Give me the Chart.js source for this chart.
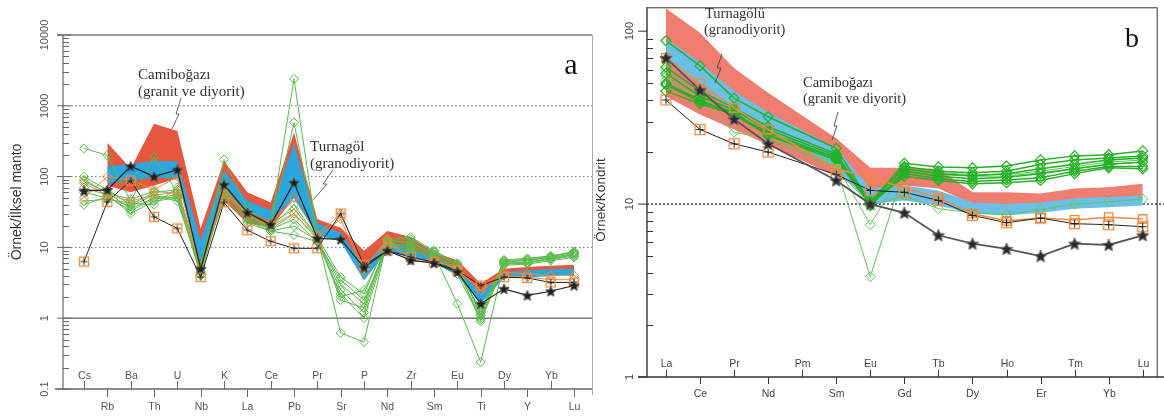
<!DOCTYPE html>
<html lang="tr">
<head>
<meta charset="UTF-8">
<title>Örümcek diyagramları</title>
<script src="https://cdn.jsdelivr.net/npm/chart.js"></script>
<style>
  html, body { margin: 0; padding: 0; background: #fff; }
  #wrap { position: relative; width: 1164px; height: 419px; overflow: hidden; }
  #chartA { position: absolute; left: 0; top: 0; }
  #chartB { position: absolute; left: 588px; top: 0; }
</style>
</head>
<body>
<div id="wrap">
  <canvas id="chartA" width="600" height="419"></canvas>
  <canvas id="chartB" width="576" height="419"></canvas>
</div>
<script>
// ---------- panel a : ilksel manto normalize ----------
const elementsA = ['Cs','Rb','Ba','Th','U','Nb','K','La','Ce','Pb','Pr','Sr','P','Nd','Zr','Sm','Eu','Ti','Dy','Y','Yb','Lu'];
const yTicksA = [0.1, 1, 10, 100, 1000, 10000];

const redTopA  = [null, 300, 130, 560, 440, 18.5, 167, 60, 43, 420, 25, 19, 9, 17, 14, 8.5, 6.6, 3.1, 5.0, 5.3, 5.5, 5.7];
const redBotA  = [null, 75, 60, 75, 94, 5.2, 46, 22, 19, 50, 17, 13, 5.2, 10.5, 8.2, 6.5, 4.5, 1.8, 4.0, 4.0, 4.2, 4.3];
const blueTopA = [null, 140, 150, 167, 163, 12.6, 120, 46, 33, 290, 22, 16, 5.5, 12.5, 9.5, 7.2, 5, 2.3, 4.5, 4.7, 4.9, 5.0];
const blueBotA = [null, 80, 88, 97, 94, 6, 70, 31, 24, 50, 15, 12, 3.4, 9, 7.2, 6, 4, 1.6, 3.7, 3.8, 3.9, 4.0];

const starA = [63, 65, 140, 100, 125, 5, 77, 31, 21, 82, 13.4, 13, 5.2, 9, 6.6, 6, 4.5, 1.6, 2.6, 2.1, 2.4, 2.9];
const plusA = [6.3, 44, 88, 27, 18.5, 3.8, 43, 17.5, 12.2, 9.7, 9.7, 30, 5.6, 9, 7.3, 6.2, 4.7, 2.9, 3.8, 3.7, 3.2, 3.2];
const orangeA1 = [50, 100, 90, 65, 100, 5, 60, 30, 22, 50, 15, 30, 5, 13, 7, 6.5, 5, 2.8, 4.5, 4.2, 4, 4];
const orangeA2 = [80, 55, 45, 55, 60, 5, 70, 28, 20, 30, 14, 25, 4.5, 12, 6.5, 6.2, 4.8, 2.5, 4, 3.8, 3.5, 3.5];

const greenA1 = [250, 200, 45, 190, 60, 5, 175, 35, 22, 2400, 14, 0.62, 0.46, 13, 14, 9, 6, 1.1, 6.5, 6.8, 7.5, 8.5];
const greenA2 = [100, 65, 40, 60, 65, 4.5, 80, 30, 20, 580, 13, 2.5, 1.2, 12, 12, 8, 1.6, 0.24, 6.0, 6.2, 7.0, 8.0];
const greenA3 = [85, 60, 35, 50, 55, 5, 65, 28, 19, 40, 14, 3.8, 2.2, 13, 11, 8.5, 5.5, 1.2, 6.2, 6.5, 7.2, 8.2];
const greenA4 = [70, 55, 30, 45, 50, 4.2, 60, 25, 18, 30, 13, 3.0, 1.6, 12, 10, 8, 5, 1.0, 5.8, 6.0, 6.8, 7.5];
const greenA5 = [60, 50, 38, 55, 45, 4.8, 55, 27, 18, 25, 12, 2.2, 1.0, 11, 9.5, 7.5, 5.2, 0.9, 5.6, 5.8, 6.5, 7.2];
const greenA6 = [45, 48, 42, 40, 70, 5.5, 50, 24, 17, 20, 12.5, 2.0, 2.5, 11.5, 10.5, 7.8, 4.8, 1.3, 6.3, 6.6, 7.3, 8.8];
const greenA7 = [40, 52, 33, 48, 52, 4, 70, 22, 17, 15, 12, 3.5, 1.8, 10.5, 9, 7, 4.2, 0.95, 5.9, 6.1, 6.9, 7.8];
const greenA8 = [90, 58, 48, 62, 58, 5.2, 58, 32, 21, 35, 14, 1.8, 1.4, 12.5, 13, 8.8, 5.8, 1.1, 6.7, 7.0, 7.6, 8.6];

// ---------- panel b : kondrit normalize ----------
const elementsB = ['La','Ce','Pr','Nd','Pm','Sm','Eu','Gd','Tb','Dy','Ho','Er','Tm','Yb','Lu'];
const yTicksB = [1, 10, 100];

const redTopB  = [135, 98, 61, 44, null, 24, 16.2, 16.2, 16, 11.7, 11.7, 11.5, 12.3, 12.5, 13.1];
const redBotB  = [42, 33, 27, 22, null, 14.5, 11.5, 12.8, 12.3, 10, 10, 10, 10.4, 10.6, 10.8];
const blueTopB = [90, 66, 45, 34, null, 21, 12.4, 12.8, 12, 10.2, 10, 10.2, 10.8, 11, 11.2];
const blueBotB = [68, 49, 34, 27, null, 16, 10, 10.5, 9.8, 8.8, 8.6, 8.9, 9.4, 9.6, 9.8];

const starB   = [70, 45.6, 31, 22.3, null, 13.7, 10, 8.9, 6.6, 5.9, 5.5, 5.0, 5.9, 5.8, 6.6];
const plusB   = [40, 27, 22.3, 20, null, 14.8, 12, 11.7, 10.5, 8.6, 7.8, 8.3, 7.7, 7.6, 7.4];
const orangeB = [70, 50, 36, 27, null, 16, 14.2, 12.4, 10.9, 8.8, 8, 8.3, 8.1, 8.4, 8.2];

const greenB1 = [88, 63, 41, 32, null, 21, 10.2, 17.2, 16.4, 16.2, 16.6, 18, 19, 19.3, 20.3];
const greenB2 = [62, 45, 36, 28, null, 19.5, 10, 16.5, 15.5, 15.2, 15.5, 17, 18, 18.5, 19];
const greenB3 = [57, 42, 35, 27, null, 19, 10.4, 16, 15, 14.6, 15, 16, 17, 18, 18.5];
const greenB4 = [50, 40, 33, 26, null, 18.5, 9.8, 15.5, 14.5, 14, 14.3, 15, 16, 17, 17.5];
const greenB5 = [49, 39, 34, 25, null, 18, 10.1, 15, 14, 13.5, 13.8, 14.2, 15.5, 16.5, 16.5];
const greenB6 = [45, 38, 33, 25, null, 18.5, 10, 14.5, 13.7, 13.1, 13.3, 13.7, 15, 16.2, 16];
const greenB7 = [55, 40, 26, 24, null, 16, 9.8, 11.2, 9.4, 8.9, 8.7, 9.3, 10, 10.3, 10.7];
const greenB8 = [60, 42, 34, 26, null, 17, 7.6, 16, 15.2, 14.8, 14.8, 15.5, 16.5, 17.5, 18];
const greenB9 = [52, 41, 33, 25, null, 16.5, 3.8, 15.8, 14.8, 14.5, 14.5, 15.2, 16, 17, 17.5];

// ---------- colours ----------
const RED_A = '#e5573f', BLUE_A = '#2ba6de';
const RED_B = '#ef7d70', BLUE_B = '#6cbfe6';
const GREEN_A = '#5cba4c', GREEN_B = '#26b026', GREEN_B2 = '#62c462';
const ORANGE = '#ef8a3c';
const OX = 588; // left of canvas b

function pts(vals) {
  return vals.map((v, i) => ({ x: i, y: v }));
}

function makeStar(r, fill, stroke) {
  const c = document.createElement('canvas');
  const s = Math.ceil(r * 2 + 3);
  c.width = s; c.height = s;
  const g = c.getContext('2d');
  g.translate(s / 2, s / 2 + 0.5);
  g.beginPath();
  for (let k = 0; k < 10; k++) {
    const rr = k % 2 ? r * 0.45 : r;
    const a = -Math.PI / 2 + k * Math.PI / 5;
    g.lineTo(rr * Math.cos(a), rr * Math.sin(a));
  }
  g.closePath();
  g.fillStyle = fill; g.fill();
  g.strokeStyle = stroke; g.lineWidth = 1; g.stroke();
  return c;
}

function makeSqPlus(h, sq, plus) {
  const c = document.createElement('canvas');
  const s = h * 2 + 3;
  c.width = s; c.height = s;
  const g = c.getContext('2d');
  g.strokeStyle = sq; g.lineWidth = 1.3;
  g.strokeRect(1.5, 1.5, s - 3, s - 3);
  g.strokeStyle = plus; g.lineWidth = 1;
  g.beginPath();
  g.moveTo(s / 2, 2.5); g.lineTo(s / 2, s - 2.5);
  g.moveTo(2.5, s / 2); g.lineTo(s - 2.5, s / 2);
  g.stroke();
  return c;
}

function band(top, bot, color, order) {
  return [
    { data: pts(top), fill: '+1', backgroundColor: color, borderColor: 'rgba(0,0,0,0)', borderWidth: 0, pointRadius: 0, spanGaps: true, order: order },
    { data: pts(bot), fill: false, borderColor: 'rgba(0,0,0,0)', borderWidth: 0, pointRadius: 0, spanGaps: true, order: order }
  ];
}

function lineDs(vals, o) {
  return Object.assign({ data: pts(vals), fill: false, spanGaps: true, pointBackgroundColor: 'rgba(0,0,0,0)' }, o);
}

function hline(ctx, x1, x2, y, color, w, dash) {
  ctx.beginPath();
  ctx.setLineDash(dash || []);
  ctx.strokeStyle = color; ctx.lineWidth = w;
  ctx.moveTo(x1, y); ctx.lineTo(x2, y); ctx.stroke();
  ctx.setLineDash([]);
}
function seg(ctx, x1, y1, x2, y2) {
  ctx.beginPath(); ctx.moveTo(x1, y1); ctx.lineTo(x2, y2); ctx.stroke();
}
function rotText(ctx, txt, x, y) {
  ctx.save(); ctx.translate(x, y); ctx.rotate(-Math.PI / 2);
  ctx.fillText(txt, 0, 0); ctx.restore();
}
function zigzag(ctx, list) {
  ctx.beginPath();
  list.forEach((p, k) => k ? ctx.lineTo(p[0], p[1]) : ctx.moveTo(p[0], p[1]));
  ctx.stroke();
}

// ---------- panel a ----------
const starImgA = makeStar(5.5, '#1e1e1e', '#555');
const sqImgA = makeSqPlus(4.5, ORANGE, '#222');

const dsA = [];
dsA.push(...band(redTopA, redBotA, RED_A, 20));
dsA.push(...band(blueTopA, blueBotA, BLUE_A, 15));
[greenA1, greenA2, greenA3, greenA4, greenA5, greenA6, greenA7, greenA8].forEach(g => {
  dsA.push(lineDs(g, { borderColor: GREEN_A, borderWidth: 1, pointStyle: 'rectRot', pointRadius: 4.5, pointBorderColor: GREEN_A, pointBorderWidth: 1, order: 5 }));
});
[orangeA1, orangeA2].forEach(o => {
  dsA.push(lineDs(o, { borderColor: ORANGE, borderWidth: 1, pointStyle: 'rectRot', pointRadius: 4.5, pointBorderColor: ORANGE, pointBorderWidth: 1, order: 4 }));
});
dsA.push(lineDs(plusA, { borderColor: '#222', borderWidth: 1, pointStyle: sqImgA, pointRadius: 4, order: 2 }));
dsA.push(lineDs(starA, { borderColor: '#222', borderWidth: 1.2, pointStyle: starImgA, pointRadius: 4, order: 1 }));

const axesA = {
  id: 'axesA',
  beforeDatasetsDraw(chart) {
    const { ctx, chartArea: a, scales: { y } } = chart;
    ctx.save();
    hline(ctx, 57, a.right, y.getPixelForValue(10000), '#7a7a7a', 1.5);
    hline(ctx, a.left, a.right, y.getPixelForValue(1), '#7a7a7a', 1.5);
    [10, 100, 1000].forEach(v => hline(ctx, a.left, a.right, y.getPixelForValue(v), '#777', 1, [1.5, 2.5]));
    ctx.restore();
  },
  afterDraw(chart) {
    const { ctx, chartArea: a, scales: { x, y } } = chart;
    ctx.save();
    ctx.strokeStyle = '#666'; ctx.lineWidth = 1.2;
    seg(ctx, a.left, a.top, a.left, a.bottom);
    ctx.strokeStyle = '#aaa'; ctx.lineWidth = 1;
    seg(ctx, a.right + 0.5, a.top, a.right + 0.5, a.bottom + 6);
    ctx.strokeStyle = '#666'; ctx.lineWidth = 1.5;
    seg(ctx, 55, a.bottom, a.right, a.bottom);
    // y ticks
    ctx.lineWidth = 1;
    for (let d = 0; d < yTicksA.length - 1; d++) {
      for (let m = 2; m < 10; m++) {
        const py = Math.round(y.getPixelForValue(yTicksA[d] * m)) + 0.5;
        seg(ctx, a.left, py, a.left + 6, py);
      }
    }
    ctx.fillStyle = '#555'; ctx.font = '11px "Liberation Sans", Arial, sans-serif';
    ctx.textAlign = 'center'; ctx.textBaseline = 'middle';
    yTicksA.forEach(v => {
      const py = y.getPixelForValue(v);
      seg(ctx, a.left - 6, py, a.left + 8, py);
      rotText(ctx, String(v), 45, py);
    });
    // category ticks and labels
    ctx.font = '10.5px "Liberation Sans", Arial, sans-serif';
    elementsA.forEach((el, i) => {
      const px = Math.round(x.getPixelForValue(i)) + 0.5;
      if (i % 2 === 0) {
        seg(ctx, px, a.bottom, px, a.bottom - 8);
        ctx.fillText(el, px, a.bottom - 13);
      } else {
        seg(ctx, px, a.bottom, px, a.bottom + 8);
        ctx.fillText(el, px, a.bottom + 18);
      }
    });
    // axis title
    ctx.fillStyle = '#333'; ctx.font = '14px "Liberation Sans", Arial, sans-serif';
    rotText(ctx, 'Örnek/İlksel manto', 17, 202);
    // annotations
    ctx.font = '15px "Liberation Serif", "Times New Roman", serif';
    ctx.textAlign = 'left'; ctx.fillStyle = '#333';
    ctx.fillText('Camiboğazı', 138, 75);
    ctx.fillText('(granit ve diyorit)', 138, 92);
    ctx.fillText('Turnagöl', 310, 147);
    ctx.fillText('(granodiyorit)', 310, 164);
    ctx.strokeStyle = '#555'; ctx.lineWidth = 0.9;
    zigzag(ctx, [[181, 98], [176, 114], [179, 114], [172, 129]]);
    zigzag(ctx, [[333, 170], [323, 184], [327, 184], [313, 200]]);
    ctx.fillStyle = '#111'; ctx.font = '30px "Liberation Serif", "Times New Roman", serif';
    ctx.textAlign = 'center';
    ctx.fillText('a', 571, 66);
    ctx.restore();
  }
};

new Chart(document.getElementById('chartA'), {
  type: 'line',
  data: { datasets: dsA },
  options: {
    responsive: false, animation: false, events: [],
    layout: { padding: { left: 63, right: 8, top: 35, bottom: 30 } },
    scales: {
      x: { type: 'linear', min: -0.9, max: 21.77, display: false },
      y: { type: 'logarithmic', min: 0.1, max: 10000, display: false }
    },
    plugins: { legend: { display: false }, tooltip: { enabled: false } }
  },
  plugins: [axesA]
});

// ---------- panel b ----------
const starImgB = makeStar(6.5, '#2a2a2a', '#666');
const sqImgB = makeSqPlus(5, ORANGE, '#222');

const dsB = [];
dsB.push(...band(redTopB, redBotB, RED_B, 20));
dsB.push(...band(blueTopB, blueBotB, BLUE_B, 15));
[greenB7, greenB8, greenB9].forEach(g => {
  dsB.push(lineDs(g, { borderColor: GREEN_B2, borderWidth: 1, pointStyle: 'rectRot', pointRadius: 5, pointBorderColor: GREEN_B2, pointBorderWidth: 1, order: 6 }));
});
[greenB1, greenB2, greenB3, greenB4, greenB5, greenB6].forEach(g => {
  dsB.push(lineDs(g, { borderColor: GREEN_B, borderWidth: 1.5, pointStyle: 'rectRot', pointRadius: 5, pointBorderColor: GREEN_B, pointBorderWidth: 1.2, order: 5 }));
});
dsB.push(lineDs(orangeB, { borderColor: ORANGE, borderWidth: 1.5, pointStyle: 'rect', pointRadius: 6, pointBorderColor: ORANGE, pointBorderWidth: 1.3, order: 3 }));
dsB.push(lineDs(plusB, { borderColor: '#222', borderWidth: 1, pointStyle: sqImgB, pointRadius: 4, order: 2 }));
dsB.push(lineDs(starB, { borderColor: '#555', borderWidth: 1.8, pointStyle: starImgB, pointRadius: 4, order: 1 }));

const axesB = {
  id: 'axesB',
  beforeDatasetsDraw(chart) {
    const { ctx, chartArea: a, scales: { y } } = chart;
    ctx.save();
    hline(ctx, a.left, 1164 - OX, y.getPixelForValue(10), '#111', 1.2, [2, 2]);
    ctx.restore();
  },
  afterDraw(chart) {
    const { ctx, chartArea: a, scales: { x, y } } = chart;
    ctx.save();
    ctx.strokeStyle = '#333'; ctx.lineWidth = 1;
    seg(ctx, a.left, a.top + 0.5, a.right, a.top + 0.5);
    seg(ctx, a.right + 0.5, a.top, a.right + 0.5, a.bottom);
    ctx.lineWidth = 1.4;
    seg(ctx, a.left, a.top, a.left, a.bottom);
    seg(ctx, a.left - 9, a.bottom, 1164 - OX, a.bottom);
    // y ticks
    ctx.lineWidth = 1;
    for (let d = 0; d < yTicksB.length; d++) {
      for (let m = 2; m < 10; m++) {
        const v = yTicksB[d] * m;
        if (v > y.max) break;
        const py = Math.round(y.getPixelForValue(v)) + 0.5;
        seg(ctx, a.left, py, a.left + 6, py);
      }
    }
    ctx.fillStyle = '#444'; ctx.font = '11px "Liberation Sans", Arial, sans-serif';
    ctx.textAlign = 'center'; ctx.textBaseline = 'middle';
    yTicksB.forEach(v => {
      const py = y.getPixelForValue(v);
      seg(ctx, a.left - 9, py, a.left, py);
      rotText(ctx, String(v), 630 - OX, py);
    });
    // category ticks and labels
    ctx.font = '10.5px "Liberation Sans", Arial, sans-serif';
    elementsB.forEach((el, i) => {
      const px = Math.round(x.getPixelForValue(i)) + 0.5;
      if (i % 2 === 0) {
        seg(ctx, px, a.bottom, px, a.bottom - 7);
        ctx.fillText(el, px, a.bottom - 13);
      } else {
        seg(ctx, px, a.bottom, px, a.bottom + 7);
        ctx.fillText(el, px, a.bottom + 17);
      }
    });
    // axis title
    ctx.fillStyle = '#333'; ctx.font = '13.5px "Liberation Sans", Arial, sans-serif';
    rotText(ctx, 'Örnek/Kondrit', 601 - OX, 200);
    // annotations
    ctx.font = '14.5px "Liberation Serif", "Times New Roman", serif';
    ctx.textAlign = 'left'; ctx.fillStyle = '#333';
    ctx.fillText('Turnagölü', 705 - OX, 14);
    ctx.fillText('(granodiyorit)', 704 - OX, 30);
    ctx.fillText('Camiboğazı', 803 - OX, 83);
    ctx.fillText('(granit ve diyorit)', 803 - OX, 99);
    ctx.strokeStyle = '#444'; ctx.lineWidth = 0.9;
    zigzag(ctx, [[722 - OX, 54], [717 - OX, 68], [721 - OX, 68], [715 - OX, 83]]);
    zigzag(ctx, [[838 - OX, 112], [834 - OX, 126], [837 - OX, 126], [832 - OX, 140]]);
    ctx.fillStyle = '#111'; ctx.font = '28px "Liberation Serif", "Times New Roman", serif';
    ctx.textAlign = 'center';
    ctx.fillText('b', 1132 - OX, 40);
    ctx.restore();
  }
};

new Chart(document.getElementById('chartB'), {
  type: 'line',
  data: { datasets: dsB },
  options: {
    responsive: false, animation: false, events: [],
    layout: { padding: { left: 59, right: 6, top: 5, bottom: 42 } },
    scales: {
      x: { type: 'linear', min: -0.5565, max: 14.41, display: false },
      y: { type: 'logarithmic', min: 1, max: 137.4, display: false }
    },
    plugins: { legend: { display: false }, tooltip: { enabled: false } }
  },
  plugins: [axesB]
});
</script>
</body>
</html>
